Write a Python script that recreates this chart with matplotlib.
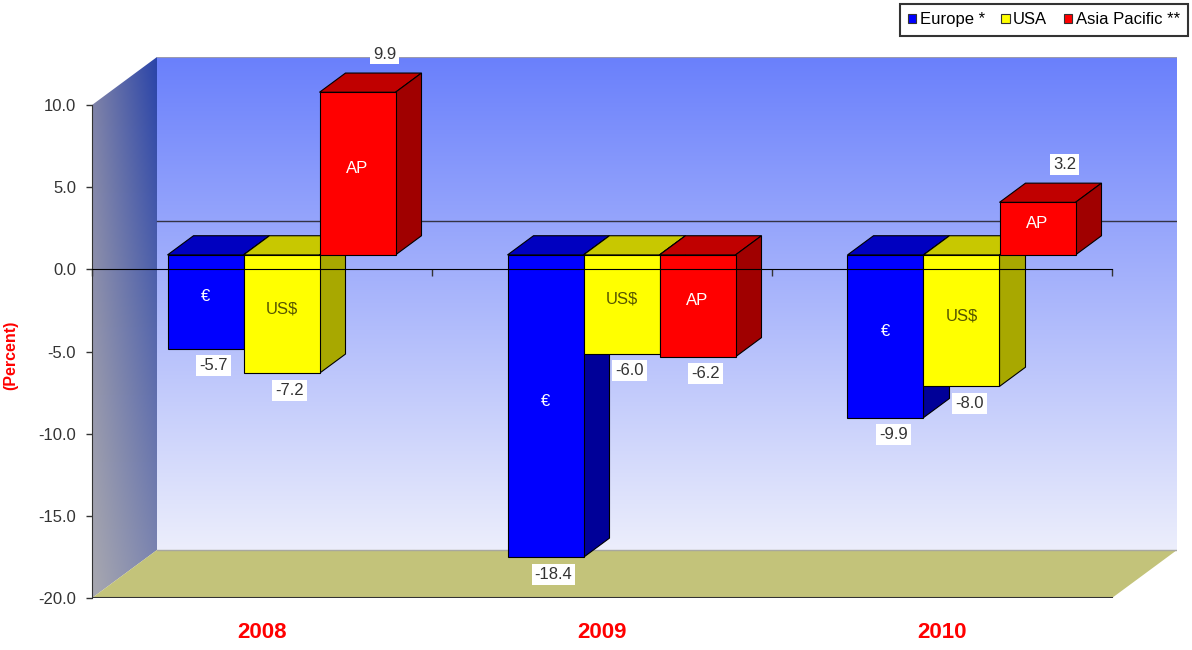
import matplotlib.pyplot as plt
import numpy as np
from matplotlib.patches import Polygon, Rectangle, Patch
from matplotlib.ticker import FormatStrFormatter
from matplotlib.colors import to_rgb

plt.rcParams['font.family'] = ['Liberation Sans', 'DejaVu Sans']

years = ['2008', '2009', '2010']
series = ['Europe *', 'USA', 'Asia Pacific **']
europe = [-5.7, -18.4, -9.9]
usa = [-7.2, -6.0, -8.0]
asia = [9.9, -6.2, 3.2]
tags = ['€', 'US$', 'AP']

# front, top, side colour of each series
faces = [('#0000ff', '#0000c0', '#000098'),
         ('#ffff00', '#c8c800', '#a8a800'),
         ('#ff0000', '#c00000', '#a00000')]
tag_colors = ['white', '#555500', 'white']

# fake 3d box: depth offset in data units
DX = 65 / 340
DY = 48 / 16.43
d0, d1 = 0.3, 0.7      # bars sit between these fractions of the depth
W = 76 / 340
VMIN, VMAX = -20, 10


def rgb(c):
    return np.array(to_rgb(c))


fig = plt.figure(figsize=(11.92, 6.5), dpi=100)
ax = fig.add_axes([92 / 1192, 52 / 650, 1085 / 1192, 541 / 650])
ax.patch.set_visible(False)

# back wall, vertical gradient
t = np.linspace(0, 1, 256)[:, None]
grad = rgb('#6a80fc') * (1 - t) + rgb('#eceefb') * t
ax.imshow(grad[:, None, :], extent=[DX, 3 + DX, VMIN + DY, VMAX + DY],
          aspect='auto', zorder=0, origin='upper')
ax.plot([DX, 3 + DX], [VMAX + DY] * 2, color='#9a9ab0', lw=0.8, zorder=0.6)

# left wall, gradient both ways
v = np.linspace(0, 1, 128)[:, None, None]
h = np.linspace(0, 1, 64)[None, :, None]
left = rgb('#7c80a8') * (1 - v) + rgb('#a8a8b0') * v
right = rgb('#2a44a8') * (1 - v) + rgb('#8088b0') * v
side = left * (1 - h) + right * h
im = ax.imshow(side, extent=[0, DX, VMIN, VMAX + DY], aspect='auto', zorder=0)
wall = Polygon([(0, VMIN), (0, VMAX), (DX, VMAX + DY), (DX, VMIN + DY)],
               closed=True, fc='none', ec='none')
ax.add_patch(wall)
im.set_clip_path(wall)

# floor
ax.add_patch(Polygon([(0, VMIN), (3, VMIN), (3 + DX, VMIN + DY), (DX, VMIN + DY)],
                     closed=True, fc='#c3c37a', ec='none', zorder=0.5))
ax.plot([DX, 3 + DX], [VMIN + DY] * 2, color='#a8a8a0', lw=1, zorder=0.6)
ax.plot([0, 3], [VMIN, VMIN], color='#333333', lw=1.5, zorder=0.7)

# zero line on the back wall
ax.plot([DX, 3 + DX], [DY, DY], color='#333344', lw=1, zorder=1)

values = [europe, usa, asia]
ddx = (d1 - d0) * DX
ddy = (d1 - d0) * DY
for g in range(len(years)):
    for s in range(len(series)):
        val = values[s][g]
        x0 = g + 0.5 + d0 * DX - 1.5 * W + s * W
        x1 = x0 + W
        y0 = min(val, 0) + d0 * DY
        y1 = max(val, 0) + d0 * DY
        front, topc, sidec = faces[s]
        ax.add_patch(Polygon([(x0, y1), (x0 + ddx, y1 + ddy), (x1 + ddx, y1 + ddy), (x1, y1)],
                             closed=True, fc=topc, ec='black', lw=0.8, zorder=3))
        ax.add_patch(Polygon([(x1, y0), (x1, y1), (x1 + ddx, y1 + ddy), (x1 + ddx, y0 + ddy)],
                             closed=True, fc=sidec, ec='black', lw=0.8, zorder=3))
        ax.add_patch(Rectangle((x0, y0), W, y1 - y0, fc=front, ec='black', lw=0.8, zorder=3))

        xc = (x0 + x1) / 2
        ax.text(xc, d0 * DY + 0.5 * val + 0.3, tags[s], color=tag_colors[s],
                fontsize=12, ha='center', va='center', zorder=5)
        if val < 0:
            lx, ly = xc + 8 / 340, y0 - 17 / 16.43
        else:
            lx, ly = xc + 0.08, y1 + ddy + 1.15
        ax.text(lx, ly, f'{val:.1f}', color='#333333', fontsize=12,
                ha='center', va='center', zorder=6,
                bbox=dict(fc='white', ec='none', pad=2))

for g, yr in enumerate(years):
    ax.text(g + 0.5, VMIN - 34 / 16.43, yr, color='red', fontsize=16,
            fontweight='bold', ha='center', va='center')

ax.set_xlim(0, 3 + DX)
ax.set_ylim(VMIN, VMAX + DY)

ax.set_yticks(range(VMIN, VMAX + 1, 5))
ax.yaxis.set_major_formatter(FormatStrFormatter('%.1f'))
ax.tick_params(axis='y', direction='out', length=4.5, width=1,
               colors='#333333', labelsize=12, pad=7)
ax.set_xticks([0, 1, 2, 3])
ax.set_xticklabels([])
ax.tick_params(axis='x', direction='out', length=5, width=1, color='#333333')

for side_name in ['top', 'right']:
    ax.spines[side_name].set_visible(False)
ax.spines['left'].set_bounds(VMIN, VMAX)
ax.spines['left'].set_color('#333333')
ax.spines['bottom'].set_position(('data', 0))
ax.spines['bottom'].set_bounds(0, 3)
ax.spines['bottom'].set_color('black')
ax.spines['bottom'].set_zorder(10)

ax.set_ylabel('(Percent)', color='red', fontweight='bold', fontsize=11.5)
ax.yaxis.set_label_coords(-0.068, 0.449)

handles = [Patch(fc=faces[s][0], ec='#333333', lw=0.8) for s in range(3)]
leg = fig.legend(handles, series, loc='upper right',
                 bbox_to_anchor=(1188 / 1192, 1 - 4 / 650), ncol=3,
                 fontsize=12, handlelength=0.5, handleheight=0.5,
                 handletextpad=0.2, columnspacing=1.0, borderpad=0.5,
                 borderaxespad=0, fancybox=False, edgecolor='#333333',
                 framealpha=1)
leg.get_frame().set_linewidth(1.5)

fig.savefig('out.png', dpi=100)
